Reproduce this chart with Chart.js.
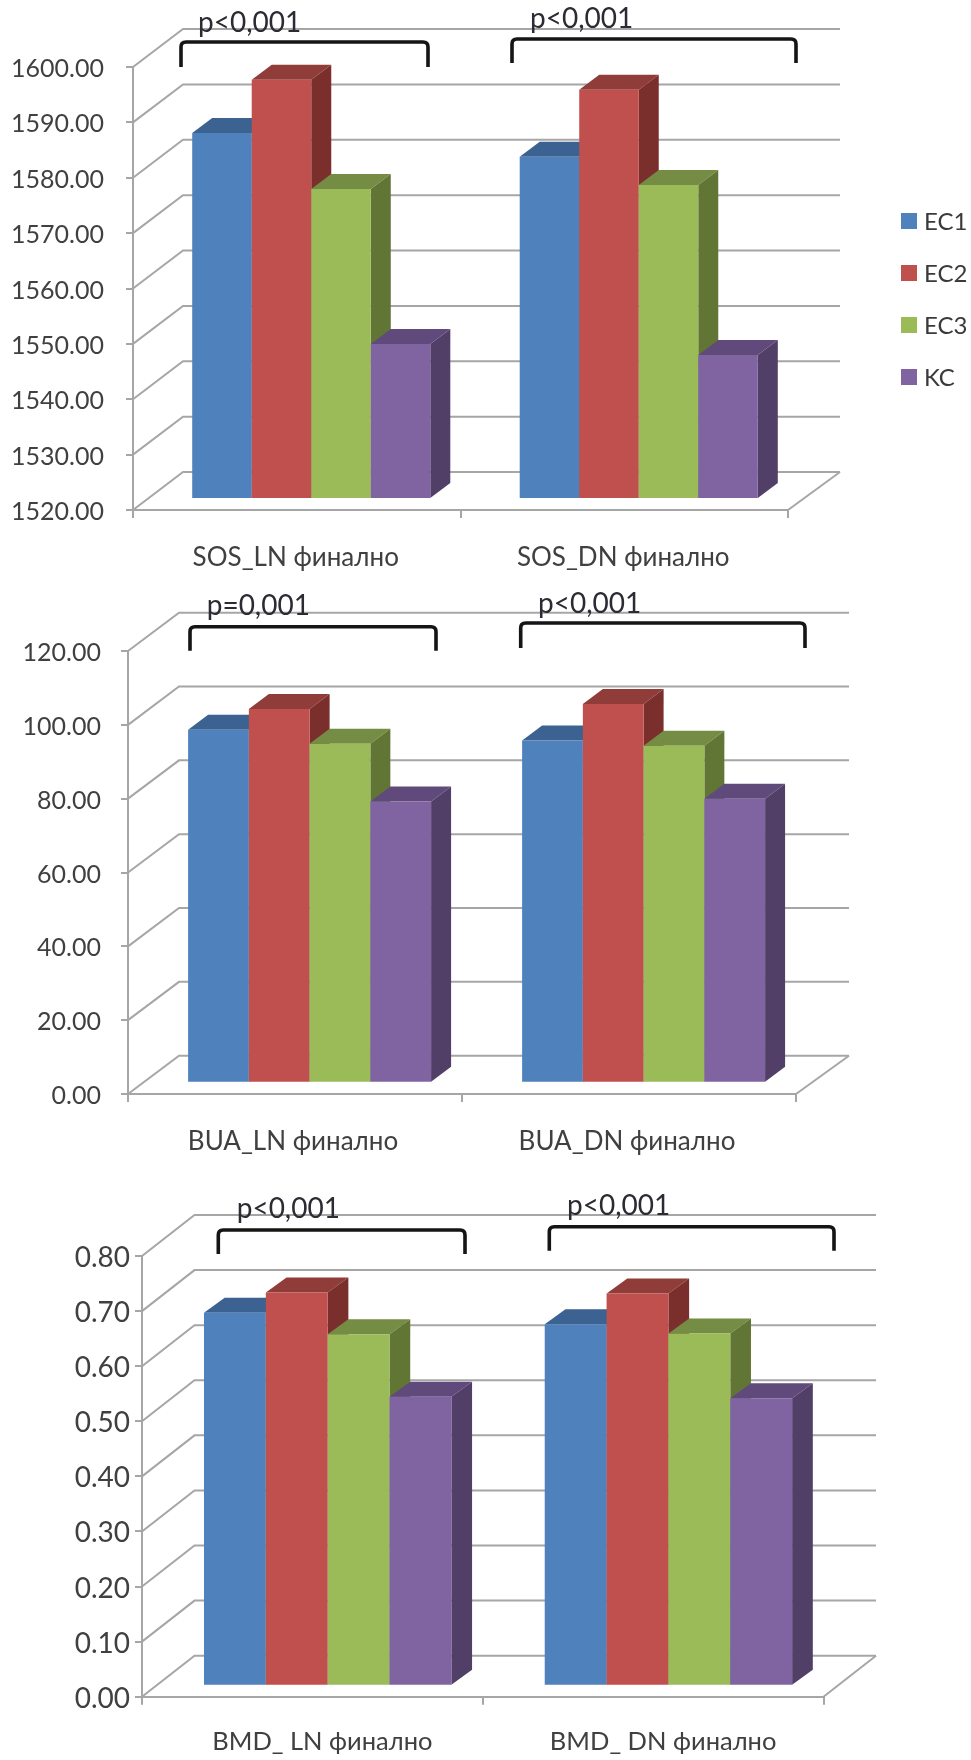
<!DOCTYPE html>
<html>
<head>
<meta charset="utf-8">
<script src="https://cdn.jsdelivr.net/npm/chart.js@4"></script>
<style>
  html, body { margin: 0; padding: 0; background: #fff; }
  #page { position: relative; width: 971px; height: 1760px; overflow: hidden; }
  canvas { position: absolute; left: 0; display: block; }
</style>
</head>
<body>
<div id="page">
  <canvas id="sos" width="971" height="590" style="top:0"></canvas>
  <canvas id="bua" width="971" height="600" style="top:590px"></canvas>
  <canvas id="bmd" width="971" height="570" style="top:1190px"></canvas>
</div>
<script>
// Measured values per group, in series order EC1, EC2, EC3, KC
const seriesNames = ['EC1', 'EC2', 'EC3', 'KC'];

const sosGroups = ['SOS_LN финално', 'SOS_DN финално'];
const sosEC1 = [1586.1, 1581.8];
const sosEC2 = [1595.7, 1593.9];
const sosEC3 = [1576.0, 1576.7];
const sosKC  = [1548.0, 1546.0];

const buaGroups = ['BUA_LN финално', 'BUA_DN финално'];
const buaEC1 = [95.6, 92.7];
const buaEC2 = [101.2, 102.6];
const buaEC3 = [91.8, 91.3];
const buaKC  = [76.2, 76.9];

const bmdGroups = ['BMD_ LN финално', 'BMD_ DN финално'];
const bmdEC1 = [0.677, 0.656];
const bmdEC2 = [0.714, 0.712];
const bmdEC3 = [0.638, 0.6395];
const bmdKC  = [0.5245, 0.5216];

// Series colours: front face, top face, side face
const frontColors = ['#4f81bd', '#c0504d', '#9bbb59', '#8064a2'];
const topColors   = ['#3b6291', '#903d3a', '#748c43', '#604a7b'];
const sideColors  = ['#32537a', '#7a2f2d', '#617634', '#523f68'];

const FONT = 'Lato, "Open Sans", sans-serif';
const GRID = '#a6a6a6';
const GRID_WIDTH = 2;

// Draws the perspective walls and floor behind the bars, then each bar with
// its top and side faces, left to right so nearer neighbours overlap properly.
const box3d = {
  id: 'box3d',
  beforeDatasetsDraw(chart, args, o) {
    const ctx = chart.ctx, y = chart.scales.y, x = chart.scales.x;
    const area = chart.chartArea;
    ctx.save();
    ctx.strokeStyle = GRID;
    ctx.lineWidth = GRID_WIDTH;
    y.ticks.forEach((t, i) => {
      const py = y.getPixelForTick(i);
      ctx.beginPath();
      ctx.moveTo(area.left, py);
      ctx.lineTo(area.left + o.wallDx, py - o.wallDy);
      ctx.lineTo(o.wallRight, py - o.wallDy);
      ctx.stroke();
    });
    // open end of the floor
    ctx.beginPath();
    ctx.moveTo(area.right, area.bottom);
    ctx.lineTo(o.wallRight, area.bottom - o.wallDy);
    ctx.stroke();
    ctx.restore();

    ctx.save();
    ctx.translate(o.barDx, -o.barDy);
    const count = x.ticks.length;
    for (let g = 0; g < count; g++) {
      chart.data.datasets.forEach((ds, s) => {
        const bar = chart.getDatasetMeta(s).data[g];
        const p = bar.getProps(['x', 'y', 'base', 'width'], true);
        const l = p.x - p.width / 2, r = p.x + p.width / 2;
        ctx.fillStyle = topColors[s];
        ctx.beginPath();
        ctx.moveTo(l, p.y);
        ctx.lineTo(l + o.faceDx, p.y - o.faceDy);
        ctx.lineTo(r + o.faceDx, p.y - o.faceDy);
        ctx.lineTo(r, p.y);
        ctx.closePath();
        ctx.fill();
        ctx.fillStyle = sideColors[s];
        ctx.beginPath();
        ctx.moveTo(r, p.y);
        ctx.lineTo(r + o.faceDx, p.y - o.faceDy);
        ctx.lineTo(r + o.faceDx, p.base - o.faceDy);
        ctx.lineTo(r, p.base);
        ctx.closePath();
        ctx.fill();
        bar.draw(ctx, area);
      });
    }
    ctx.restore();
    return false;
  },
  afterDraw(chart, args, o) {
    const ctx = chart.ctx;
    // significance brackets and their captions
    o.brackets.forEach(b => {
      ctx.save();
      ctx.strokeStyle = '#151515';
      ctx.lineWidth = 3.6;
      ctx.lineCap = 'butt';
      ctx.lineJoin = 'round';
      ctx.beginPath();
      ctx.moveTo(b.left, b.bottom);
      ctx.lineTo(b.left, b.top + 5);
      ctx.quadraticCurveTo(b.left, b.top, b.left + 5, b.top);
      ctx.lineTo(b.right - 5, b.top);
      ctx.quadraticCurveTo(b.right, b.top, b.right, b.top + 5);
      ctx.lineTo(b.right, b.bottom);
      ctx.stroke();
      ctx.fillStyle = '#2b2b33';
      ctx.font = '28px ' + FONT;
      ctx.textAlign = 'left';
      ctx.textBaseline = 'alphabetic';
      ctx.fillText(b.text, b.textX, b.textY);
      ctx.restore();
    });
    // series key, only on the first panel
    if (o.legend) {
      ctx.save();
      ctx.font = '24px ' + FONT;
      ctx.textAlign = 'left';
      ctx.textBaseline = 'middle';
      seriesNames.forEach((name, s) => {
        const cy = o.legend.rows[s];
        ctx.fillStyle = frontColors[s];
        ctx.fillRect(o.legend.x, cy - 8, 16, 16);
        ctx.fillStyle = '#3a3a3a';
        ctx.fillText(name, o.legend.x + 23, cy + 1);
      });
      ctx.restore();
    }
  }
};

function panel(id, groups, series, axis, geo) {
  const canvas = document.getElementById(id);
  return new Chart(canvas, {
    type: 'bar',
    data: {
      labels: groups,
      datasets: seriesNames.map((name, s) => ({
        label: name,
        data: series[s],
        base: axis.min,
        backgroundColor: frontColors[s],
        borderWidth: 0,
        barPercentage: 1,
        categoryPercentage: geo.catPct
      }))
    },
    options: {
      responsive: false,
      animation: false,
      devicePixelRatio: 1,
      layout: {
        autoPadding: false,
        padding: { top: geo.top, right: canvas.width - geo.right, left: 0, bottom: 0 }
      },
      plugins: {
        legend: { display: false },
        tooltip: { enabled: false },
        box3d: {
          wallDx: geo.wallDx, wallDy: geo.wallDy, wallRight: geo.wallRight,
          barDx: geo.barDx, barDy: geo.barDy, faceDx: geo.faceDx, faceDy: geo.faceDy,
          brackets: geo.brackets, legend: geo.legend
        }
      },
      scales: {
        x: {
          afterFit(s) { s.height = canvas.height - geo.bottom; },
          grid: { display: true, drawOnChartArea: false, tickLength: 8, color: GRID, lineWidth: GRID_WIDTH },
          border: { display: true, color: GRID, width: GRID_WIDTH },
          ticks: {
            padding: geo.xPad, maxRotation: 0, autoSkip: false, color: '#404040',
            labelOffset: geo.xOffset, font: { family: FONT, size: geo.xFont }
          }
        },
        y: {
          min: axis.min, max: axis.max,
          afterFit(s) { s.width = geo.left; },
          grid: { display: true, drawOnChartArea: false, tickLength: 7, color: GRID, lineWidth: GRID_WIDTH },
          border: { display: true, color: GRID, width: GRID_WIDTH },
          ticks: {
            stepSize: axis.step, padding: geo.yPad, color: '#404040', labelOffset: 2,
            font: { family: FONT, size: geo.yFont },
            callback: v => Number(v).toFixed(2)
          }
        }
      }
    },
    plugins: [box3d]
  });
}

panel('sos', sosGroups, [sosEC1, sosEC2, sosEC3, sosKC], { min: 1520, max: 1600, step: 10 }, {
  left: 133, right: 788, top: 67, bottom: 510, catPct: 0.727, xPad: 24, xOffset: -1, yPad: 22,
  xFont: 26, yFont: 25,
  wallDx: 50, wallDy: 38, wallRight: 840, barDx: 14.5, barDy: 11, faceDx: 20, faceDy: 15,
  brackets: [
    { left: 181, right: 428, top: 42, bottom: 67, text: 'p<0,001', textX: 198, textY: 32 },
    { left: 512, right: 796, top: 39, bottom: 63, text: 'p<0,001', textX: 530, textY: 28 }
  ],
  legend: { x: 901, rows: [221, 273, 325, 377] }
});

panel('bua', buaGroups, [buaEC1, buaEC2, buaEC3, buaKC], { min: 0, max: 120, step: 20 }, {
  left: 128, right: 796, top: 61, bottom: 504, catPct: 0.7275, xPad: 24, xOffset: -2, yPad: 20,
  xFont: 26, yFont: 25,
  wallDx: 51, wallDy: 38.3, wallRight: 849, barDx: 14.6, barDy: 11.3, faceDx: 20, faceDy: 15,
  brackets: [
    { left: 190, right: 436, top: 36.7, bottom: 60.7, text: 'p=0,001', textX: 206.7, textY: 25 },
    { left: 520.7, right: 805, top: 33, bottom: 58, text: 'p<0,001', textX: 538, textY: 22.7 }
  ]
});

panel('bmd', bmdGroups, [bmdEC1, bmdEC2, bmdEC3, bmdKC], { min: 0, max: 0.8, step: 0.1 }, {
  left: 142, right: 823.5, top: 66, bottom: 506.7, catPct: 0.726, xPad: 22, xOffset: 10, yPad: 5,
  xFont: 25.5, yFont: 28,
  wallDx: 52.5, wallDy: 41, wallRight: 876, barDx: 15.3, barDy: 11, faceDx: 20.7, faceDy: 15,
  brackets: [
    { left: 218.3, right: 465, top: 40, bottom: 64, text: 'p<0,001', textX: 236.7, textY: 28.3 },
    { left: 549.3, right: 834, top: 36.7, bottom: 60.7, text: 'p<0,001', textX: 567, textY: 25 }
  ]
});
</script>
</body>
</html>
